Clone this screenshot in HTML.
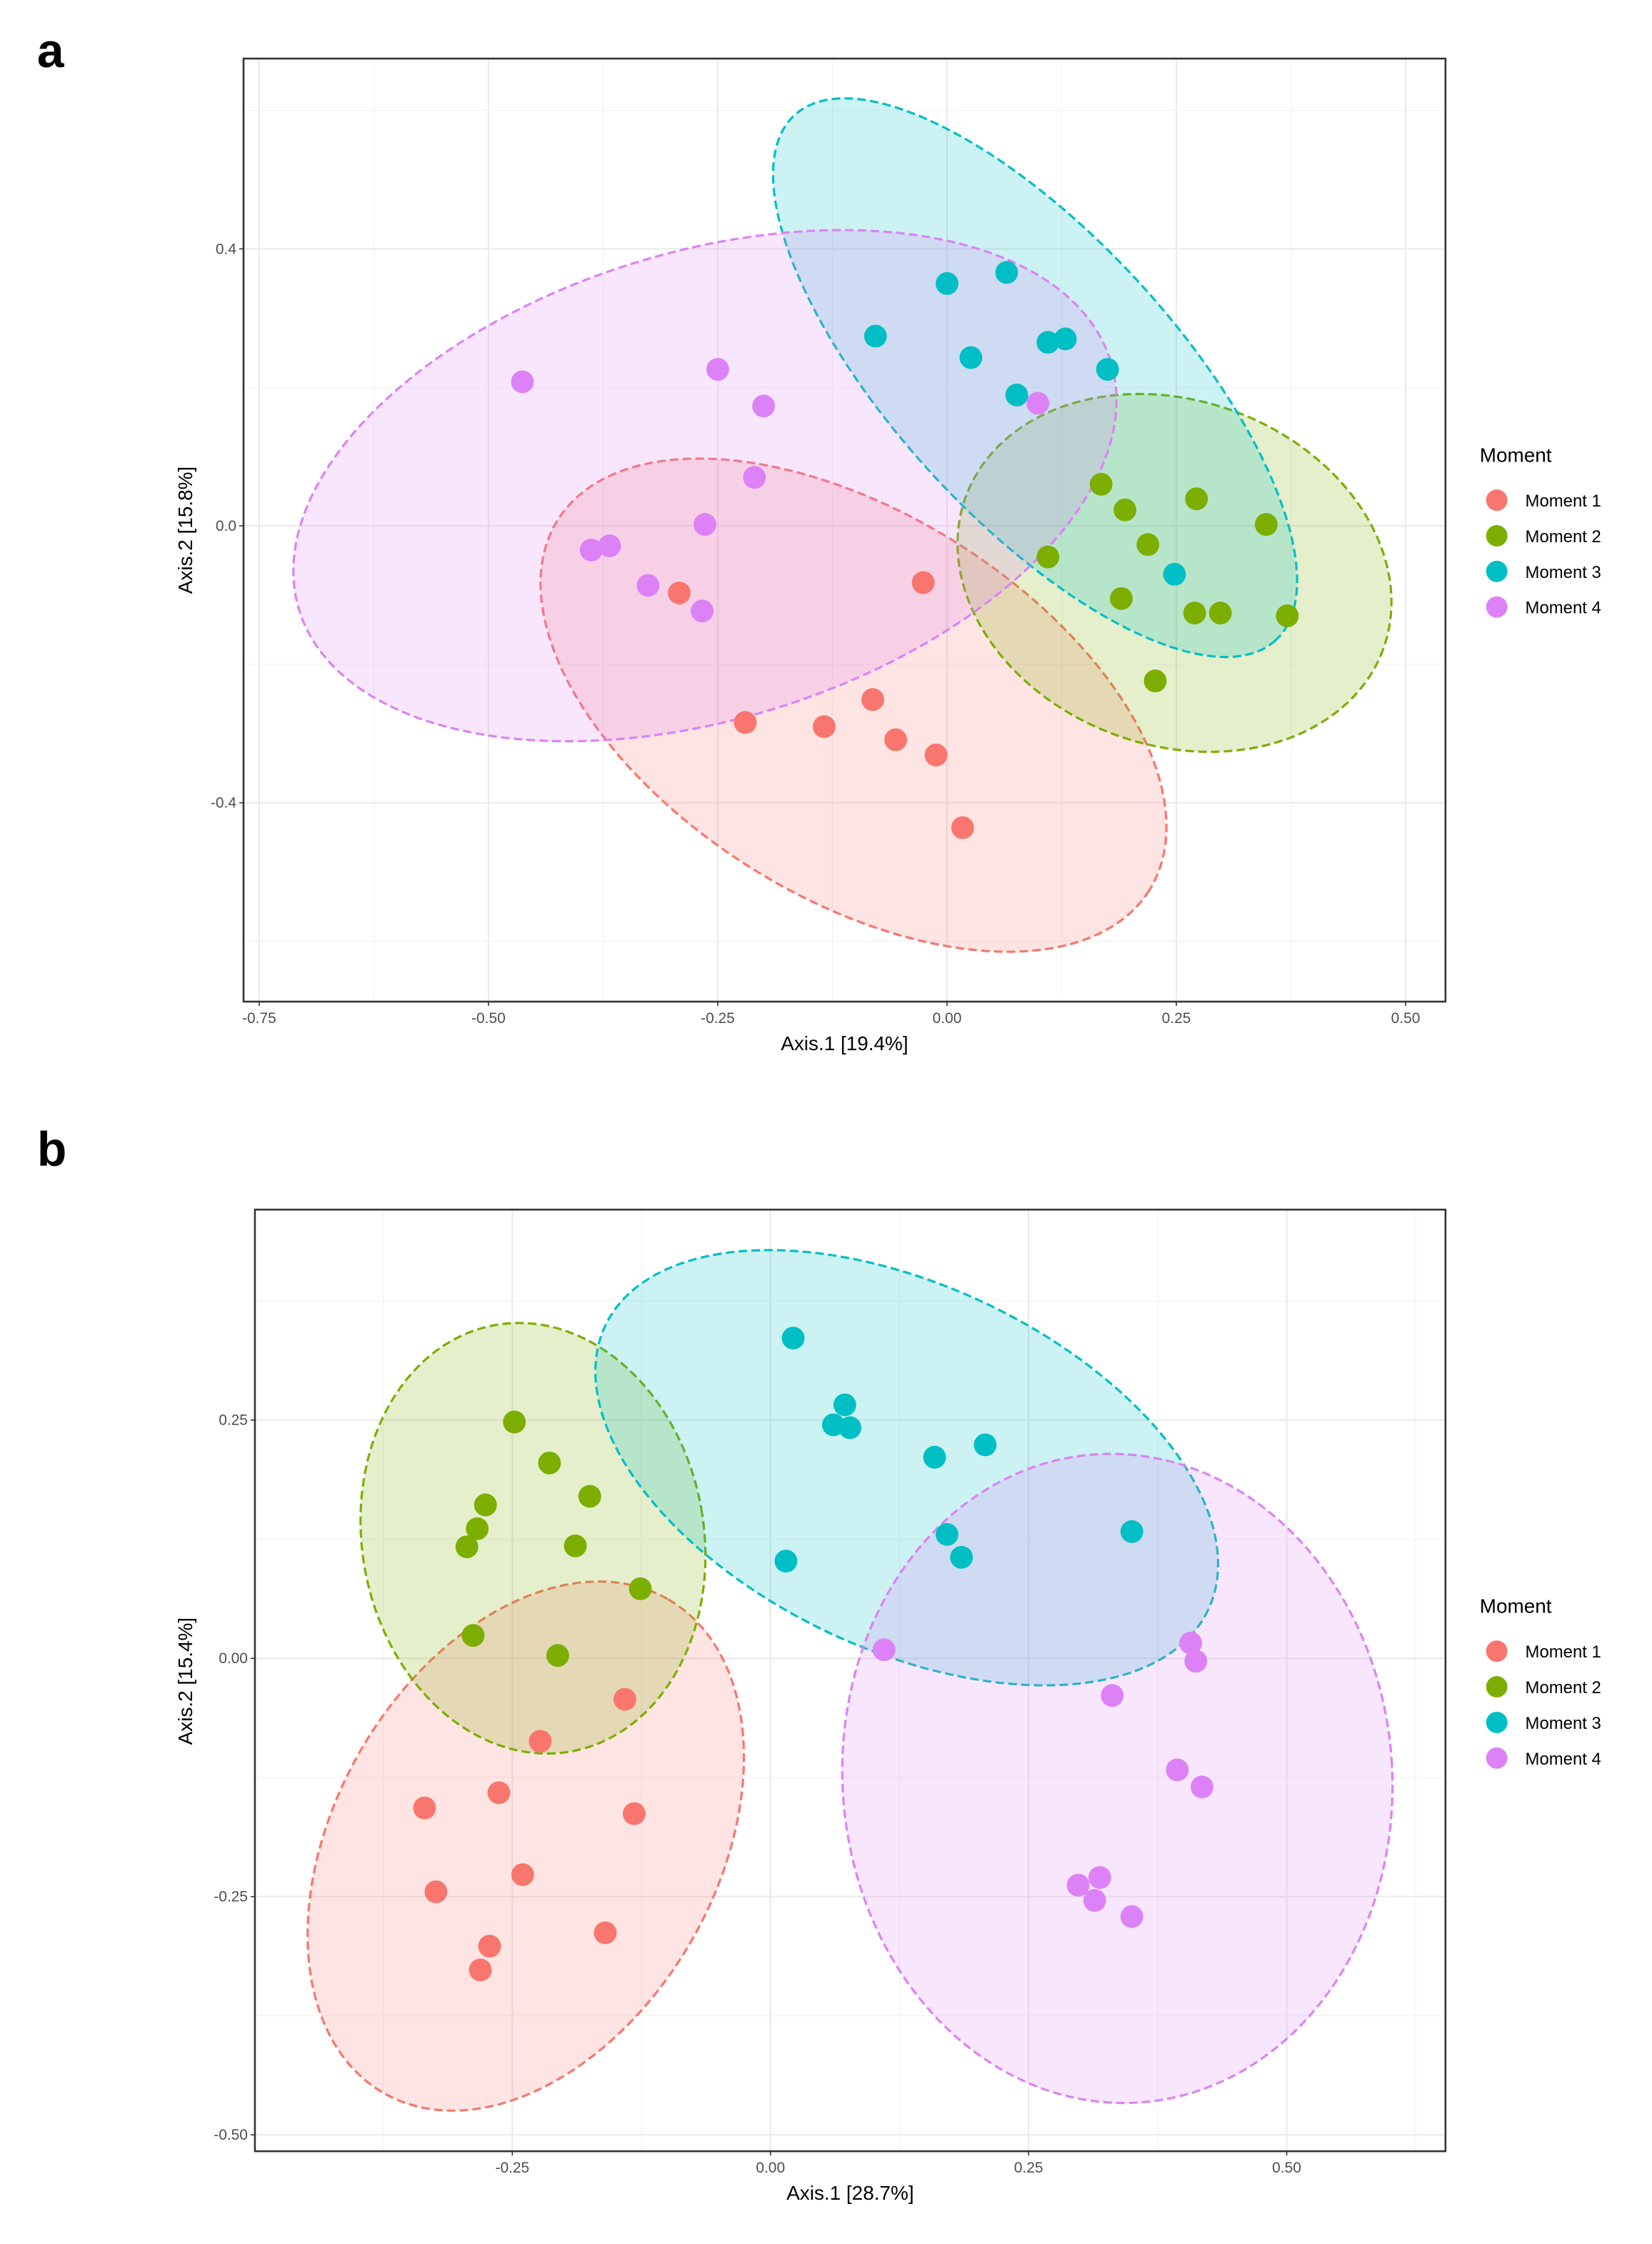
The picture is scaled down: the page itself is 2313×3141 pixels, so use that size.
<!DOCTYPE html>
<html><head><meta charset="utf-8"><style>
html,body{margin:0;padding:0;background:#fff;}
svg{display:block;font-family:"Liberation Sans",Arial,sans-serif;}
</style></head><body>
<svg id="fig" width="2313" height="3141" viewBox="0 0 1160 1575" xmlns="http://www.w3.org/2000/svg">
<text x="26" y="47" font-size="34" font-weight="bold" fill="#000">a</text>
<text x="26" y="818" font-size="34" font-weight="bold" fill="#000">b</text>
<g id="pa"></g>
<g id="pb"></g>
</svg>
<script>
const colors = ["#F8766D","#7CAE00","#00BFC4","#DC82F6"];
const seriesNames = ["Moment 1","Moment 2","Moment 3","Moment 4"];

// Panel a data
const aXTicks = [-0.75,-0.5,-0.25,0,0.25,0.5];
const aXTickLabels = ["-0.75","-0.50","-0.25","0.00","0.25","0.50"];
const aYTicks = [0.4,0,-0.4];
const aYTickLabels = ["0.4","0.0","-0.4"];
const aXMinor = [-0.625,-0.375,-0.125,0.125,0.375];
const aYMinor = [0.6,0.2,-0.2,-0.6];
const aM1 = [[-0.292,-0.097],[-0.220,-0.284],[-0.134,-0.290],[-0.081,-0.251],[-0.056,-0.309],[-0.012,-0.331],[0.017,-0.436],[-0.026,-0.082]];
const aM2 = [[0.168,0.060],[0.194,0.023],[0.219,-0.027],[0.272,0.039],[0.348,0.002],[0.110,-0.045],[0.190,-0.105],[0.270,-0.126],[0.298,-0.126],[0.371,-0.130],[0.227,-0.224]];
const aM3 = [[0.000,0.350],[0.065,0.366],[-0.078,0.274],[0.026,0.243],[0.110,0.265],[0.129,0.270],[0.076,0.189],[0.175,0.226],[0.248,-0.070]];
const aM4 = [[-0.463,0.208],[-0.250,0.226],[-0.200,0.173],[-0.210,0.070],[-0.264,0.002],[-0.388,-0.035],[-0.368,-0.029],[-0.326,-0.086],[-0.267,-0.123],[0.099,0.177]];
const aEllCenters = [[-0.102,-0.259],[0.248,-0.068],[0.096,0.214],[-0.264,0.058]];

// Panel b data
const bXTicks = [-0.25,0,0.25,0.5];
const bXTickLabels = ["-0.25","0.00","0.25","0.50"];
const bYTicks = [0.25,0,-0.25,-0.5];
const bYTickLabels = ["0.25","0.00","-0.25","-0.50"];
const bXMinor = [-0.375,-0.125,0.125,0.375,0.625];
const bYMinor = [0.375,0.125,-0.125,-0.375];
const bM1 = [[-0.335,-0.157],[-0.263,-0.141],[-0.324,-0.245],[-0.240,-0.227],[-0.272,-0.302],[-0.281,-0.327],[-0.160,-0.288],[-0.132,-0.163],[-0.223,-0.087],[-0.141,-0.043]];
const bM2 = [[-0.248,0.248],[-0.214,0.205],[-0.276,0.161],[-0.175,0.170],[-0.284,0.136],[-0.294,0.117],[-0.189,0.118],[-0.126,0.073],[-0.288,0.024],[-0.206,0.003]];
const bM3 = [[0.022,0.336],[0.072,0.266],[0.061,0.245],[0.077,0.242],[0.159,0.211],[0.208,0.224],[0.015,0.102],[0.171,0.130],[0.185,0.106],[0.350,0.133]];
const bM4 = [[0.110,0.009],[0.407,0.016],[0.412,-0.003],[0.331,-0.039],[0.394,-0.117],[0.418,-0.135],[0.298,-0.238],[0.319,-0.230],[0.314,-0.254],[0.350,-0.271]];
const bEllCenters = [[-0.237,-0.197],[-0.230,0.126],[0.132,0.200],[0.336,-0.126]];

const NS="http://www.w3.org/2000/svg";
function mk(parent,tag,attrs){const e=document.createElementNS(NS,tag);for(const k in attrs)e.setAttribute(k,attrs[k]);parent.appendChild(e);return e;}

function draw(g,cfg){
  const sx=v=>cfg.x0+v*cfg.xs, sy=v=>cfg.y0-v*cfg.ys;
  const bg=mk(g,'rect',{x:cfg.L,y:cfg.T,width:cfg.R-cfg.L,height:cfg.B-cfg.T,fill:'#fff'});
  
  
  cfg.xMinor.forEach(v=>{const l=mk(g,'line',{x1:sx(v),x2:sx(v),y1:cfg.T,y2:cfg.B,stroke:'#f2f2f2','stroke-width':0.6});
    
    });
  cfg.yMinor.forEach(v=>{const l=mk(g,'line',{x1:cfg.L,x2:cfg.R,y1:sy(v),y2:sy(v),stroke:'#f2f2f2','stroke-width':0.6});
    
    });
  cfg.xTicks.forEach((v,i)=>{const l=mk(g,'line',{x1:sx(v),x2:sx(v),y1:cfg.T,y2:cfg.B,stroke:'#ebebeb','stroke-width':1.1});
    
    
    mk(g,'line',{x1:sx(v),x2:sx(v),y1:cfg.B,y2:cfg.B+3,stroke:'#333','stroke-width':0.8});
    const t=mk(g,'text',{x:sx(v),y:cfg.B+15,'font-size':10.5,fill:'#4d4d4d','text-anchor':'middle'});t.textContent=cfg.xLabels[i];
    
    });
  cfg.yTicks.forEach((v,i)=>{const l=mk(g,'line',{x1:cfg.L,x2:cfg.R,y1:sy(v),y2:sy(v),stroke:'#ebebeb','stroke-width':1.1});
    
    
    mk(g,'line',{x1:cfg.L-3,x2:cfg.L,y1:sy(v),y2:sy(v),stroke:'#333','stroke-width':0.8});
    const t=mk(g,'text',{x:cfg.L-5,y:sy(v)+3.5,'font-size':10.5,fill:'#4d4d4d','text-anchor':'end'});t.textContent=cfg.yLabels[i];
    
    });
  const clipId='clip'+cfg.id;
  const cp=mk(mk(g,'defs',{}),'clipPath',{id:clipId});mk(cp,'rect',{x:cfg.L,y:cfg.T,width:cfg.R-cfg.L,height:cfg.B-cfg.T});
  const eg=mk(g,'g',{'clip-path':'url(#'+clipId+')'});
  cfg.ell.forEach((c,i)=>{const sh=cfg.ellShape[i];
    const e=mk(eg,'ellipse',{cx:0,cy:0,rx:sh[0],ry:sh[1],transform:`translate(${sx(c[0])},${sy(c[1])}) rotate(${sh[2]})`,
      fill:colors[i],'fill-opacity':0.2,stroke:colors[i],'stroke-width':1.6,'stroke-dasharray':'6,3'});
    
    });
  cfg.series.forEach((s,i)=>s.forEach(p=>{const c=mk(eg,'circle',{cx:sx(p[0]),cy:sy(p[1]),r:8,fill:colors[i]});
    
    }));
  const fr=mk(g,'rect',{x:cfg.L,y:cfg.T,width:cfg.R-cfg.L,height:cfg.B-cfg.T,fill:'none',stroke:'#333','stroke-width':1.3});
  
  
  const xt=mk(g,'text',{x:(cfg.L+cfg.R)/2,y:cfg.B+34,'font-size':14,fill:'#000','text-anchor':'middle','xml:space':'preserve'});xt.textContent=cfg.xTitle;
  
  
  const yt=mk(g,'text',{x:0,y:0,'font-size':14,fill:'#000','text-anchor':'middle','xml:space':'preserve',transform:`translate(135,${cfg.yTitleY}) rotate(-90)`});yt.textContent=cfg.yTitle;
  
  
  const lg=mk(g,'g',{});
  
  
  const lt=mk(lg,'text',{x:1039,y:cfg.legY,'font-size':14,fill:'#000'});lt.textContent='Moment';
  
  
  seriesNames.forEach((n,i)=>{const y=cfg.legY+27+i*25;
    const c=mk(lg,'circle',{cx:1051,cy:y,r:7.5,fill:colors[i]});
    
    
    const t=mk(lg,'text',{x:1071,y:y+4.5,'font-size':12,fill:'#000'});t.textContent=n;
    
    });
}

draw(document.getElementById('pa'),{id:'a',L:171,R:1015,T:41,B:703,x0:665,xs:644,y0:369,ys:486,
  xTicks:aXTicks,xLabels:aXTickLabels,yTicks:aYTicks,yLabels:aYTickLabels,xMinor:aXMinor,yMinor:aYMinor,
  series:[aM1,aM2,aM3,aM4],ell:aEllCenters,
  ellShape:[[245,135,32],[156,121,20],[250,99,47.5],[298,164,-17]],
  xTitle:'Axis.1   [19.4%]',yTitle:'Axis.2   [15.8%]',yTitleY:372,legY:324});
draw(document.getElementById('pb'),{id:'b',L:179,R:1015,T:849,B:1510,x0:541,xs:725,y0:1164,ys:669,
  xTicks:bXTicks,xLabels:bXTickLabels,yTicks:bYTicks,yLabels:bYTickLabels,xMinor:bXMinor,yMinor:bYMinor,
  series:[bM1,bM2,bM3,bM4],ell:bEllCenters,
  ellShape:[[200,134,-60],[120,152,-10],[234,128,25.2],[193,228,-4]],
  xTitle:'Axis.1   [28.7%]',yTitle:'Axis.2   [15.4%]',yTitleY:1180,legY:1132});
</script>
</body></html>
